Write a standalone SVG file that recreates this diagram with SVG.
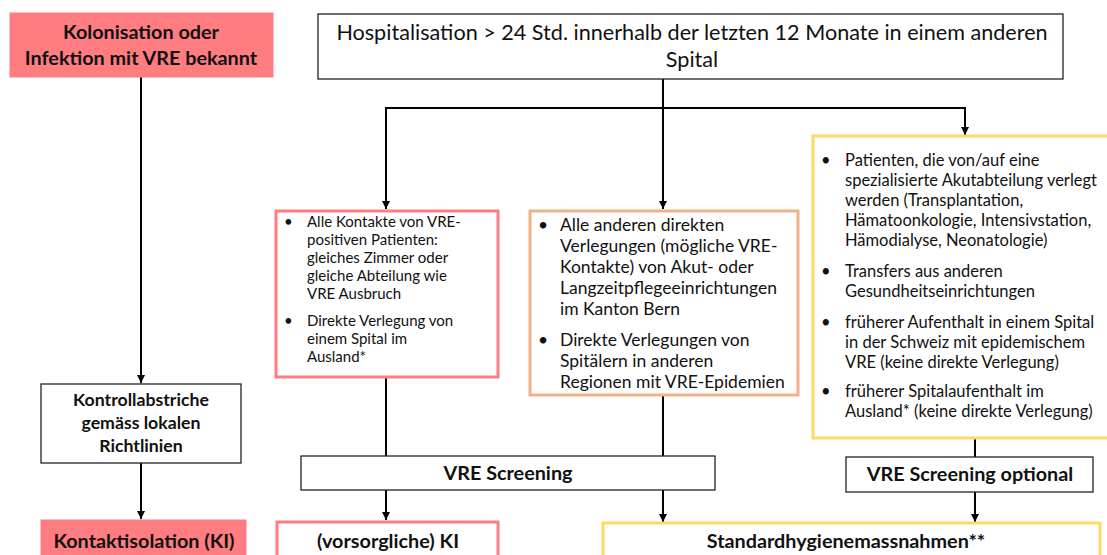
<svg xmlns="http://www.w3.org/2000/svg" width="1107" height="555" viewBox="0 0 1107 555">
<defs>
<marker id="ah" viewBox="0 0 10 10" refX="10" refY="5" markerWidth="4" markerHeight="4" orient="auto" markerUnits="strokeWidth">
<path d="M0,0 L10,5 L0,10 z" fill="#000"/>
</marker>
<style>
text{font-family:Lato,"Open Sans","DejaVu Sans",sans-serif;fill:#111}
.b{font-weight:bold}
.c{text-anchor:middle}
.plain{fill:#fff;stroke:#222;stroke-width:1.3}
.redfill{fill:#FF7C80;stroke:#FF7C80;stroke-width:1}
.redline{fill:#fff;stroke:#FF7C80;stroke-width:3}
.orange{fill:#fff;stroke:#F4B183;stroke-width:3}
.yellow{fill:#fff;stroke:#FFD966;stroke-width:3}
.conn{fill:none;stroke:#000;stroke-width:2}
.lbl{font-size:19.8px;font-weight:bold;text-anchor:middle}
</style>
</defs>

<g id="connectors">
<path class="conn" d="M141,77 V383" marker-end="url(#ah)"/>
<path class="conn" d="M141,463 V519" marker-end="url(#ah)"/>
<path class="conn" d="M663,79 V209" marker-end="url(#ah)"/>
<path class="conn" d="M386,108 H965"/>
<path class="conn" d="M386,107 V209" marker-end="url(#ah)"/>
<path class="conn" d="M965,107 V135" marker-end="url(#ah)"/>
<path class="conn" d="M386,378 V456"/>
<path class="conn" d="M663,395 V456"/>
<path class="conn" d="M975,438 V457"/>
<path class="conn" d="M386,490 V520" marker-end="url(#ah)"/>
<path class="conn" d="M663,490 V522" marker-end="url(#ah)"/>
<path class="conn" d="M975,492 V522" marker-end="url(#ah)"/>
</g>

<g id="known">
<rect class="redfill" x="10" y="13" width="263" height="64"/>
<text class="lbl" x="141" y="39">Kolonisation oder</text>
<text class="lbl" x="141" y="65">Infektion mit VRE bekannt</text>
</g>

<g id="hospitalisation">
<rect class="plain" x="318" y="14" width="745" height="65"/>
<text class="c" x="692" y="40" font-size="21.6">Hospitalisation &gt; 24 Std. innerhalb der letzten 12 Monate in einem anderen</text>
<text class="c" x="692" y="67" font-size="21.6">Spital</text>
</g>

<g id="kontrollabstriche">
<rect class="plain" x="41" y="384" width="200" height="79"/>
<text class="b c" font-size="17.7" x="141" y="406">Kontrollabstriche</text>
<text class="b c" font-size="17.7" x="141" y="429">gemäss lokalen</text>
<text class="b c" font-size="17.7" x="141" y="452">Richtlinien</text>
</g>

<g id="kontaktisolation">
<rect class="redfill" x="41" y="520" width="205" height="40"/>
<text class="lbl" x="144" y="548">Kontaktisolation (KI)</text>
</g>

<g id="box-red">
<rect class="redline" x="276" y="211" width="222" height="166"/>
<g font-size="15">
<text x="284" y="227">•</text>
<text x="307" y="227">Alle Kontakte von VRE-</text>
<text x="307" y="245">positiven Patienten:</text>
<text x="307" y="263">gleiches Zimmer oder</text>
<text x="307" y="281">gleiche Abteilung wie</text>
<text x="307" y="299">VRE Ausbruch</text>
<text x="284" y="326">•</text>
<text x="307" y="326">Direkte Verlegung von</text>
<text x="307" y="344">einem Spital im</text>
<text x="307" y="362">Ausland*</text>
</g>
</g>

<g id="box-orange">
<rect class="orange" x="530" y="211" width="268" height="184"/>
<g font-size="17.5">
<text x="538" y="231">•</text>
<text x="560" y="231">Alle anderen direkten</text>
<text x="560" y="252">Verlegungen (mögliche VRE-</text>
<text x="560" y="273">Kontakte) von Akut- oder</text>
<text x="560" y="294">Langzeitpflegeeinrichtungen</text>
<text x="560" y="315">im Kanton Bern</text>
<text x="538" y="346">•</text>
<text x="560" y="346">Direkte Verlegungen von</text>
<text x="560" y="367">Spitälern in anderen</text>
<text x="560" y="388">Regionen mit VRE-Epidemien</text>
</g>
</g>

<g id="box-yellow">
<rect class="yellow" x="813" y="136" width="300" height="302"/>
<g font-size="16.5">
<text x="821" y="166">•</text>
<text x="845" y="166">Patienten, die von/auf eine</text>
<text x="845" y="186">spezialisierte Akutabteilung verlegt</text>
<text x="845" y="206">werden (Transplantation,</text>
<text x="845" y="226">Hämatoonkologie, Intensivstation,</text>
<text x="845" y="246">Hämodialyse, Neonatologie)</text>
<text x="821" y="277">•</text>
<text x="845" y="277">Transfers aus anderen</text>
<text x="845" y="297">Gesundheitseinrichtungen</text>
<text x="821" y="328">•</text>
<text x="845" y="328">früherer Aufenthalt in einem Spital</text>
<text x="845" y="348">in der Schweiz mit epidemischem</text>
<text x="845" y="368">VRE (keine direkte Verlegung)</text>
<text x="821" y="397">•</text>
<text x="845" y="397">früherer Spitalaufenthalt im</text>
<text x="845" y="417">Ausland* (keine direkte Verlegung)</text>
</g>
</g>

<g id="vre-screening">
<rect class="plain" x="301" y="456" width="414" height="34"/>
<text class="lbl" x="508" y="480">VRE Screening</text>
</g>

<g id="vre-screening-optional">
<rect class="plain" x="846" y="457" width="247" height="35"/>
<text class="lbl" x="970" y="481">VRE Screening optional</text>
</g>

<g id="vorsorgliche-ki">
<rect class="redline" x="277" y="522" width="221" height="40"/>
<text class="lbl" x="388" y="548">(vorsorgliche) KI</text>
</g>

<g id="standardhygiene">
<rect class="yellow" x="603" y="523" width="497" height="40"/>
<text class="lbl" x="846" y="548">Standardhygienemassnahmen**</text>
</g>
</svg>
